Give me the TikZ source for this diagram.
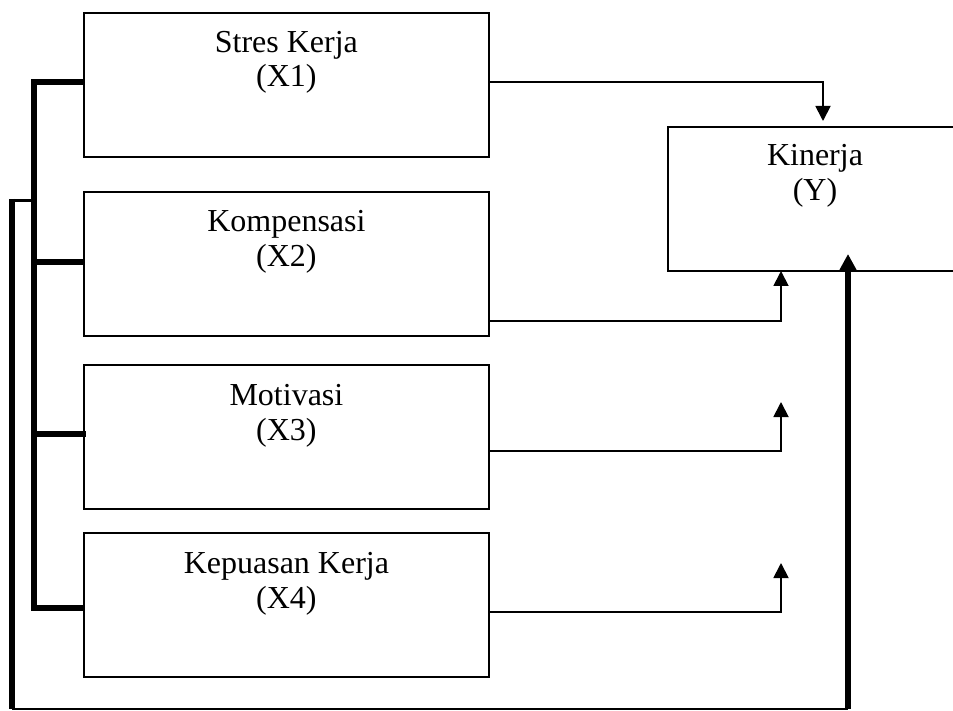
\documentclass[tikz,border=0pt]{standalone}
\usepackage{fontspec}
\setmainfont{Liberation Serif}
\usetikzlibrary{arrows.meta,calc}
\begin{document}
\begin{tikzpicture}[x=1pt,y=-1pt,
  box/.style={draw,line width=1.8pt,minimum width=405pt,minimum height=144pt,anchor=north west,inner sep=0pt},
  lbl/.style={font=\fontsize{32}{35}\selectfont,anchor=base,inner sep=0pt},
  thinline/.style={line width=1.8pt},
  midline/.style={line width=3pt},
  thickline/.style={line width=5.2pt},
  tiparrow/.style={-{Triangle[length=15pt,width=15pt]}},
  bigtiparrow/.style={-{Triangle[length=16pt,width=16pt]}}
]
\clip (0,0) rectangle (953,711);
\fill[white] (0,0) rectangle (953,711);

% boxes
\node[box] (b1) at (83,12) {};
\node[box] (b2) at (83,191) {};
\node[box] (b3) at (83,364) {};
\node[box] (b4) at (83,532) {};
\node[box,minimum width=310pt] (ky) at (667,126) {};

% texts
\node[lbl] (t1a) at ($(b1.north)+(0,41)$) {Stres Kerja};
\node[lbl] (t1b) at ($(b1.north)+(0,75)$) {(X1)};
\node[lbl] (t2a) at ($(b2.north)+(0,41)$) {Kompensasi};
\node[lbl] (t2b) at ($(b2.north)+(0,76)$) {(X2)};
\node[lbl] (t3a) at ($(b3.north)+(0,41)$) {Motivasi};
\node[lbl] (t3b) at ($(b3.north)+(0,76)$) {(X3)};
\node[lbl] (t4a) at ($(b4.north)+(0,41)$) {Kepuasan Kerja};
\node[lbl] (t4b) at ($(b4.north)+(0,76)$) {(X4)};
\node[lbl] (tya) at (815,166) {Kinerja};
\node[lbl] (tyb) at (815,201) {(Y)};

% coordinates
\coordinate (k1) at (34,82);
\coordinate (k2) at (34,262);
\coordinate (k3) at (34,434);
\coordinate (k4) at (34,608);
\coordinate (j) at (34,201);
\coordinate (oj) at (10,201);
\coordinate (ot) at (12,199);
\coordinate (ob) at (12,709);
\coordinate (p1) at (488,82);
\coordinate (p2) at (488,321);
\coordinate (p3) at (488,451);
\coordinate (p4) at (488,612);
\coordinate (c1) at (823,82);
\coordinate (c2) at (781,321);
\coordinate (c3) at (781,451);
\coordinate (c4) at (781,612);
\coordinate (e1) at (823,121);
\coordinate (e2) at (781,271);
\coordinate (e3) at (781,402);
\coordinate (e4) at (781,563);
\coordinate (kt) at (848,254);
\coordinate (kb) at (848,709);

% right connectors
\draw[thinline,tiparrow] (p1) -- (c1) -- (e1);
\draw[thinline,tiparrow] (p2) -- (c2) -- (e2);
\draw[thinline,tiparrow] (p3) -- (c3) -- (e3);
\draw[thinline,tiparrow] (p4) -- (c4) -- (e4);

% left bracket
\draw[thickline,line join=miter] (b1.west |- k1) -- (k1) -- (k4) -- (b4.west |- k4);
\draw[thickline] (k2) -- (b2.west |- k2);
\draw[thickline] (k3) -- ($(b3.west |- k3)+(3,0)$);
\draw[midline] (j) -- (oj);
\draw[thickline] (ot) -- (ob);
\draw[thinline] (ob) -- (kb);
\draw[thickline,bigtiparrow] (kb) -- (kt);
\end{tikzpicture}
\end{document}
